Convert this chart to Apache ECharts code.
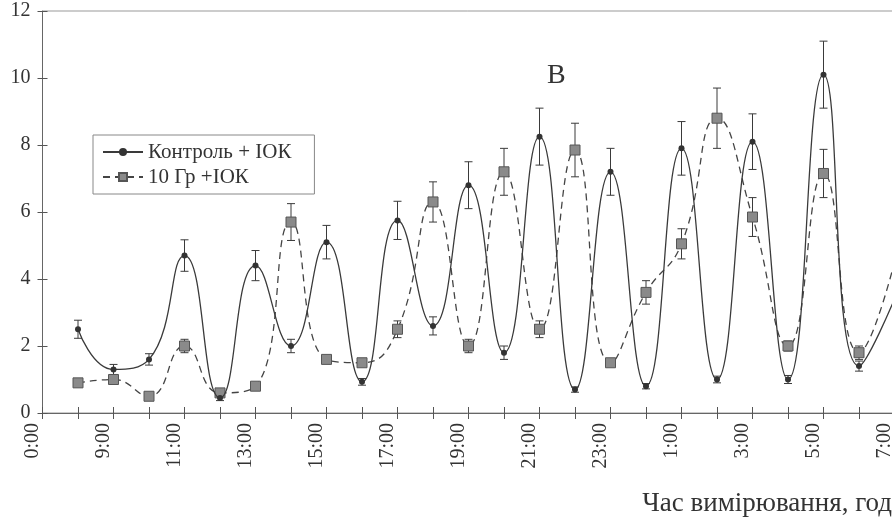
<!DOCTYPE html>
<html>
<head>
<meta charset="utf-8">
<script src="https://cdn.jsdelivr.net/npm/echarts@6/dist/echarts.min.js"></script>
<style>
html,body{margin:0;padding:0;background:#fff;}
#c{width:892px;height:523px;}
</style>
</head>
<body>
<div id="c"></div>
<script>
// Category axis: origin tick (labelled "0:00" in the source) then hourly 8:00 … 7:00
var categories = ['0:00','8:00','9:00','10:00','11:00','12:00','13:00','14:00','15:00','16:00','17:00','18:00','19:00','20:00','21:00','22:00','23:00','0:00','1:00','2:00','3:00','4:00','5:00','6:00','7:00'];
var yTicks = [0, 2, 4, 6, 8, 10, 12];
var seriesNames = ['Контроль + ІОК', '10 Гр +ІОК'];
// values for 8:00 … 7:00 (24 points); the 7:00 point sits on the cut-off right edge
var control    = [2.5, 1.3, 1.6, 4.7, 0.45, 4.4, 2.0, 5.1, 0.93, 5.75, 2.6, 6.8, 1.8, 8.25, 0.7, 7.2, 0.8, 7.9, 1.0, 8.1, 1.0, 10.1, 1.4, 3.4];
var controlErr = [0.27, 0.15, 0.17, 0.47, 0.08, 0.45, 0.2, 0.5, 0.1, 0.57, 0.27, 0.7, 0.2, 0.85, 0.08, 0.7, 0.08, 0.8, 0.1, 0.83, 0.12, 1.0, 0.15, 0];
var gr10       = [0.9, 1.0, 0.5, 2.0, 0.6, 0.8, 5.7, 1.6, 1.5, 2.5, 6.3, 2.0, 7.2, 2.5, 7.85, 1.5, 3.6, 5.05, 8.8, 5.85, 2.0, 7.15, 1.8, 4.5];
var gr10Err    = [0.05, 0.1, 0.05, 0.2, 0.1, 0.08, 0.55, 0.08, 0.08, 0.25, 0.6, 0.2, 0.7, 0.25, 0.8, 0.05, 0.35, 0.45, 0.9, 0.58, 0.15, 0.72, 0.2, 0];

var FONT = '"Liberation Serif", "DejaVu Serif", serif';
var INK = '#333';
var LAST = control.length - 1;

function pts(vals){ return vals.map(function(v,i){ return [i+1, v]; }); }
function errs(vals, e){ return vals.slice(0, LAST).map(function(v,i){ return [i+1, v-e[i], v+e[i]]; }); }

function errRender(params, api){
  var x = api.value(0), lo = api.value(1), hi = api.value(2);
  var a = api.coord([x, hi]), b = api.coord([x, lo]);
  var w = 4;
  var st = {stroke:'#3a3a3a', lineWidth:1};
  return {type:'group', children:[
    {type:'line', shape:{x1:a[0],y1:a[1],x2:b[0],y2:b[1]}, style:st},
    {type:'line', shape:{x1:a[0]-w,y1:a[1],x2:a[0]+w,y2:a[1]}, style:st},
    {type:'line', shape:{x1:b[0]-w,y1:b[1],x2:b[0]+w,y2:b[1]}, style:st}
  ]};
}
function symSize(size){
  return function(v, p){ return p.dataIndex === LAST ? 0 : size; };
}

var chart = echarts.init(document.getElementById('c'), null, {renderer:'canvas'});
var axisLabelX = {
  show:true, interval:1, rotate:90, margin:10, color:INK, fontFamily:FONT, fontSize:20,
  verticalAlign:'bottom'
};
var option = {
  animation:false,
  backgroundColor:'#fff',
  title:{text:'В', left:542, top:57, textStyle:{fontFamily:FONT, fontWeight:'normal', fontSize:28, color:INK}},
  legend:{
    data:seriesNames, orient:'vertical', left:93, top:135,
    padding:[6,23,6,9], itemWidth:40, itemHeight:10, itemGap:3,
    backgroundColor:'#fff', borderColor:'#888', borderWidth:1, borderRadius:0,
    textStyle:{fontFamily:FONT, fontSize:21, color:INK, lineHeight:22}
  },
  graphic:[{type:'text', right:0, top:490, style:{text:'Час вимірювання, год', font:'27px "Liberation Serif", serif', fill:INK}}],
  grid:{left:42.5, right:-2.5, top:11, bottom:110, show:true, borderColor:'#999', borderWidth:1,
        outerBoundsMode:'none', containLabel:false},
  xAxis:[
    {type:'category', data:categories, boundaryGap:false, position:'bottom',
     axisLine:{show:true, lineStyle:{color:'#666', width:1}},
     axisTick:{show:true, interval:0, length:6, lineStyle:{color:'#555'}},
     axisLabel:axisLabelX, splitLine:{show:false}},
    {type:'category', data:categories, boundaryGap:false, position:'bottom', gridIndex:0,
     axisLine:{show:false}, axisTick:{show:true, inside:true, interval:0, length:6, lineStyle:{color:'#555'}},
     axisLabel:{show:false}, splitLine:{show:false}}
  ],
  yAxis:[
    {type:'value', min:yTicks[0], max:yTicks[yTicks.length-1], interval:2, position:'left',
     axisLine:{show:true, lineStyle:{color:'#666', width:1}},
     axisTick:{show:true, length:5, lineStyle:{color:'#555'}},
     axisLabel:{color:INK, fontFamily:FONT, fontSize:20, margin:12},
     splitLine:{show:false}},
    {type:'value', min:yTicks[0], max:yTicks[yTicks.length-1], interval:2, position:'left',
     axisLine:{show:false}, axisTick:{show:true, inside:true, length:5, lineStyle:{color:'#555'}},
     axisLabel:{show:false}, splitLine:{show:false}}
  ],
  series:[
    {type:'custom', name:'errC', renderItem:errRender, data:errs(control, controlErr), z:3,
     encode:{x:0, y:[1,2]}, silent:true},
    {type:'custom', name:'errG', renderItem:errRender, data:errs(gr10, gr10Err), z:3,
     encode:{x:0, y:[1,2]}, silent:true},
    {type:'line', name:seriesNames[1], data:pts(gr10), smooth:0.5, z:4,
     symbol:'rect', symbolSize:symSize(10), showSymbol:true,
     lineStyle:{color:'#444', width:1.3, type:[7,5]},
     itemStyle:{color:'#8a8a8a', borderColor:'#555', borderWidth:1}},
    {type:'line', name:seriesNames[0], data:pts(control), smooth:0.5, z:5,
     symbol:'circle', symbolSize:symSize(6), showSymbol:true,
     lineStyle:{color:'#3a3a3a', width:1.3},
     itemStyle:{color:'#333', borderWidth:0}}
  ]
};
chart.setOption(option);
</script>
</body>
</html>
